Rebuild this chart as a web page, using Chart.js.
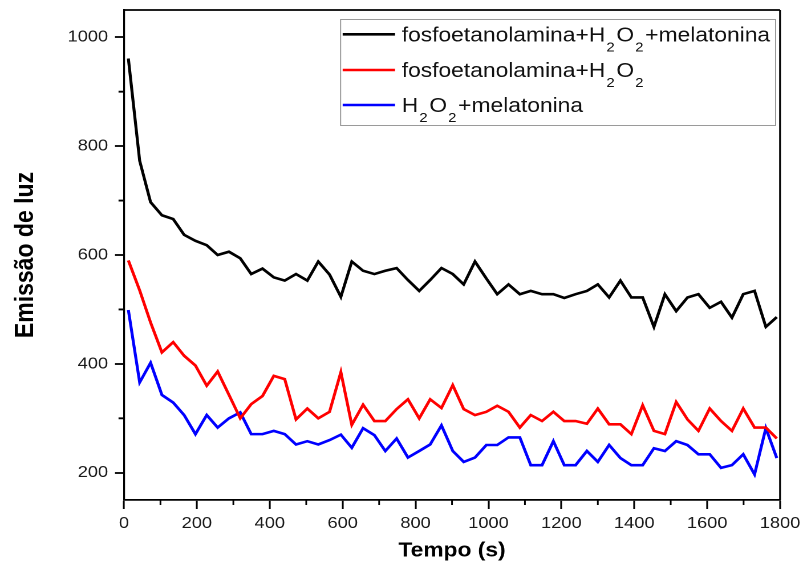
<!DOCTYPE html>
<html><head><meta charset="utf-8">
<script src="https://cdn.jsdelivr.net/npm/chart.js@4/dist/chart.umd.min.js"></script>
<style>
html,body{margin:0;padding:0;background:#fff;overflow:hidden}
#wrap{position:absolute;left:0;top:0;width:704px;height:573px;transform:scaleX(1.1406);transform-origin:0 0}
canvas{display:block}
</style></head><body>
<div id="wrap"><canvas id="c" width="704" height="573"></canvas></div>
<script>
// time (s)
const times = [12,43,73,104,135,165,196,227,257,288,319,349,380,411,441,472,503,533,564,595,625,656,687,717,748,779,810,840,871,902,932,963,994,1024,1055,1086,1116,1147,1178,1208,1239,1270,1300,1331,1362,1392,1423,1454,1484,1515,1546,1576,1607,1638,1668,1699,1730,1761,1791];
const seriesNames = ['fosfoetanolamina+H2O2+melatonina','fosfoetanolamina+H2O2','H2O2+melatonina'];
const blackValues = [961,773,697,673,666,637,626,618,600,606,594,565,575,559,553,565,553,588,564,523,588,571,565,571,576,554,534,554,576,565,546,588,557,528,546,528,534,528,528,521,528,534,546,522,553,522,522,468,528,497,522,528,503,514,485,528,534,468,486];
const redValues = [590,535,476,421,440,415,397,360,386,343,300,326,341,378,372,298,318,300,312,385,288,325,295,295,317,335,300,335,319,361,317,306,312,323,312,283,306,295,312,295,295,290,318,289,289,271,324,277,271,330,298,277,318,295,277,318,283,283,263];
const blueValues = [499,366,402,343,329,306,271,306,283,300,311,271,271,277,271,252,258,252,260,270,246,282,269,240,263,228,240,252,287,240,220,228,251,251,265,265,214,214,258,214,214,240,220,251,227,214,214,245,240,258,251,234,234,209,214,234,197,282,227];
const xTickLabels = [0,200,400,600,800,1000,1200,1400,1600,1800];
const xMinorTicks = [100,300,500,700,900,1100,1300,1500,1700];
const yTickLabels = [200,400,600,800,1000];
const yMinorTicks = [300,500,700,900];
const seriesColors = ['#000000','#ff0000','#0000ff'];

const legendRows = [
  [{t:'fosfoetanolamina+H'},{t:'2',sub:true},{t:'O'},{t:'2',sub:true},{t:'+melatonina'}],
  [{t:'fosfoetanolamina+H'},{t:'2',sub:true},{t:'O'},{t:'2',sub:true}],
  [{t:'H'},{t:'2',sub:true},{t:'O'},{t:'2',sub:true},{t:'+melatonina'}]
];

const FONT = "'Liberation Sans', Arial, sans-serif";

const framePlugin = {
  id: 'frame',
  afterDraw(chart) {
    const ctx = chart.ctx, a = chart.chartArea;
    const xs = chart.scales.x, ys = chart.scales.y;
    ctx.save();
    ctx.strokeStyle = '#000';
    ctx.lineWidth = 1.8;
    ctx.beginPath();
    ctx.moveTo(a.left, a.top); ctx.lineTo(a.right, a.top);
    ctx.stroke();
    ctx.lineWidth = 1.6;
    ctx.beginPath();
    ctx.moveTo(a.right, a.top); ctx.lineTo(a.right, a.bottom);
    ctx.stroke();
    ctx.lineWidth = 1.5;
    ctx.beginPath();
    xMinorTicks.forEach(v => { const px = xs.getPixelForValue(v); ctx.moveTo(px, a.bottom); ctx.lineTo(px, a.bottom + 5); });
    ctx.stroke();
    ctx.lineWidth = 1.8;
    ctx.beginPath();
    yMinorTicks.forEach(v => { const py = ys.getPixelForValue(v); ctx.moveTo(a.left, py); ctx.lineTo(a.left - 4.8, py); });
    ctx.stroke();
    // legend
    const bx = 298.1, by = 19, bw = 381.4, bh = 106;
    ctx.fillStyle = '#fff';
    ctx.fillRect(bx, by, bw, bh);
    ctx.strokeStyle = '#9a9a9a';
    ctx.lineWidth = 1;
    ctx.strokeRect(bx + 0.5, by + 0.5, bw, bh);
    const rowY = [34.3, 70, 105];
    legendRows.forEach((row, i) => {
      const y = rowY[i];
      ctx.strokeStyle = seriesColors[i];
      ctx.lineWidth = 2.6;
      ctx.beginPath(); ctx.moveTo(300.4, y); ctx.lineTo(346.3, y); ctx.stroke();
      let x = 352.2;
      ctx.fillStyle = '#111';
      ctx.textBaseline = 'alphabetic';
      ctx.textAlign = 'left';
      row.forEach(seg => {
        if (seg.sub) {
          ctx.font = '13px ' + FONT;
          x += 1;
          ctx.fillText(seg.t, x, y + 17);
          x += ctx.measureText(seg.t).width + 1.5;
        } else {
          ctx.font = '20px ' + FONT;
          ctx.fillText(seg.t, x, y + 7);
          x += ctx.measureText(seg.t).width;
        }
      });
    });
    ctx.restore();
  }
};

const mk = (vals) => times.map((t, i) => ({x: t, y: vals[i]}));

new Chart(document.getElementById('c'), {
  type: 'line',
  data: {
    datasets: [blackValues, redValues, blueValues].map((v, i) => ({
      label: seriesNames[i],
      data: mk(v),
      borderColor: seriesColors[i],
      backgroundColor: seriesColors[i],
      borderWidth: 2.6,
      pointRadius: 0,
      tension: 0,
      fill: false
    }))
  },
  options: {
    responsive: false,
    animation: false,
    devicePixelRatio: 2,
    layout: { padding: { top: 10, right: 20.1, left: 0, bottom: 0 } },
    plugins: { legend: { display: false }, tooltip: { enabled: false } },
    scales: {
      x: {
        type: 'linear', min: 0, max: 1800,
        afterBuildTicks: s => { s.ticks = xTickLabels.map(v => ({value: v})); },
        afterFit: s => { s.height = 73; s.paddingLeft = 0; s.paddingRight = 0; },
        ticks: { color: '#1a1a1a', font: { family: FONT, size: 16 }, padding: 5, maxRotation: 0, autoSkip: false, callback: v => String(v) },
        grid: { drawOnChartArea: false, drawTicks: true, tickLength: 9, tickColor: '#000', tickWidth: 1.6 },
        border: { display: true, color: '#000', width: 1.8 },
        title: { display: true, text: 'Tempo (s)', color: '#000', font: { family: FONT, size: 20, weight: 'bold' }, padding: { top: 0, bottom: 10 } }
      },
      y: {
        type: 'linear', min: 150, max: 1050,
        afterBuildTicks: s => { s.ticks = yTickLabels.map(v => ({value: v})); },
        afterFit: s => { s.width = 108.7; s.paddingTop = 0; s.paddingBottom = 0; },
        ticks: { color: '#1a1a1a', font: { family: FONT, size: 16 }, padding: 6, callback: v => String(v) },
        grid: { drawOnChartArea: false, drawTicks: true, tickLength: 7.9, tickColor: '#000', tickWidth: 1.8 },
        border: { display: true, color: '#000', width: 1.6 },
        title: { display: true, text: 'Emissão de luz', color: '#000', font: { family: FONT, size: 23, weight: 'bold' }, padding: { top: 9, bottom: 0 } }
      }
    }
  },
  plugins: [framePlugin]
});
</script>
</body></html>
